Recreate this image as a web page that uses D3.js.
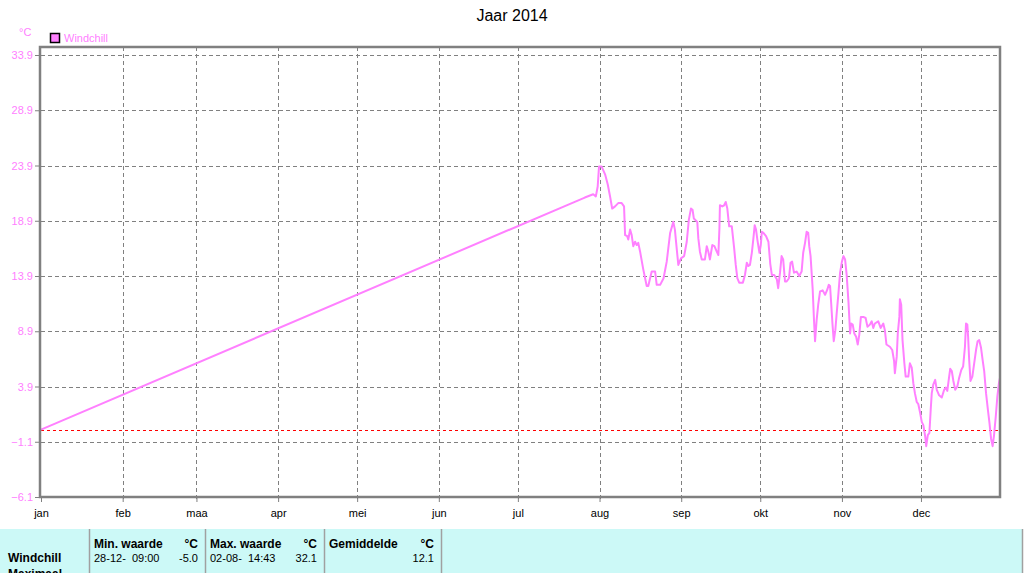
<!DOCTYPE html>
<html><head><meta charset="utf-8">
<script src="https://cdn.jsdelivr.net/npm/d3@7/dist/d3.min.js"></script>
<style>
html,body{margin:0;padding:0;background:#fff;}
svg{display:block;font-family:"Liberation Sans",Arial,sans-serif;}
text{white-space:pre;}
</style></head>
<body>
<svg id="chart" width="1024" height="573"></svg>
<script>
// ---- data ----
const title = "Jaar 2014";
const seriesName = "Windchill";
const unit = "°C";
const monthLabels = ["jan","feb","maa","apr","mei","jun","jul","aug","sep","okt","nov","dec"];
const monthStartDays = [0,31,59,90,120,151,181,212,243,273,304,334];
const yTickValues = [-6.1,-1.1,3.9,8.9,13.9,18.9,23.9,28.9,33.9];
const refLineValue = 0;
// day of year (0 = 1 jan) and windchill values (°C)
const days = [0,206.4,209.6,210.6,211.3,211.8,212.8,214.1,215.1,216.0,216.8,217.9,219.1,220.4,221.3,221.7,222.5,222.9,223.6,224.2,224.8,225.5,226.1,226.7,227.4,228.6,229.9,230.5,231.8,233.1,233.7,235.0,236.3,237.5,238.8,240.0,240.6,241.2,241.9,242.9,244.1,245.1,245.9,246.7,247.3,247.8,249.1,249.5,250.1,250.8,252.0,252.7,253.3,253.9,254.8,255.6,256.5,257.1,257.5,257.7,258.6,259.3,259.9,260.5,261.2,262.2,262.6,263.1,263.7,264.3,265.0,266.4,267.2,267.9,268.5,269.1,269.8,270.4,270.9,271.4,271.9,272.7,273.2,273.6,274.2,275.2,276.1,276.8,277.4,278.3,279.3,279.8,280.5,281.1,281.7,282.4,283.0,283.9,284.5,285.1,285.8,286.8,287.8,288.7,289.3,290.0,290.6,291.2,291.6,292.1,292.9,293.4,293.8,294.4,295.0,295.7,296.7,297.6,298.5,299.0,299.5,299.9,300.4,300.9,301.5,302.0,302.7,303.3,304.0,304.6,305.2,305.8,306.5,307.1,307.5,308.1,308.7,309.4,310.0,310.6,311.2,312.1,313.0,313.7,314.6,315.3,315.9,316.5,317.8,318.7,319.7,320.3,320.9,322.2,323.1,323.8,324.1,324.8,325.2,325.8,326.0,326.5,327.0,327.7,328.2,329.2,329.8,330.5,331.1,331.7,332.4,333.0,333.7,334.3,334.9,335.6,336.0,336.6,337.2,337.7,338.1,338.7,339.4,340.0,340.9,341.9,342.8,343.4,344.0,344.7,345.1,345.7,346.3,347.0,347.8,348.5,349.3,350.0,350.7,351.1,351.6,351.9,352.3,352.8,353.5,354.2,354.9,355.5,356.1,356.8,357.4,358.0,358.7,359.4,360.0,360.6,361.2,361.7,362.4,363.0,363.6,364.0];
const windchill = [0.0,21.0,21.3,21.1,22.0,23.8,23.8,23.1,22.2,21.1,20.0,20.2,20.5,20.5,20.2,17.6,17.5,17.2,18.1,17.6,16.6,17.0,16.7,16.9,16.1,14.5,13.0,13.0,14.3,14.3,13.1,13.1,13.7,15.2,17.8,18.8,18.1,16.6,14.9,15.5,15.7,17.0,19.0,20.0,19.9,19.1,18.8,17.3,16.1,15.4,15.4,16.6,16.1,15.4,16.7,16.6,16.1,15.8,18.2,20.3,20.2,20.3,20.6,20.0,18.4,18.4,17.5,16.4,14.9,13.7,13.3,13.3,14.0,15.1,14.8,14.9,16.0,17.3,18.5,18.1,17.2,16.0,16.7,17.9,17.8,17.5,17.0,15.0,14.0,14.0,13.6,12.8,14.2,15.7,15.4,13.4,13.4,13.7,15.1,15.2,14.2,14.3,13.9,14.3,16.0,16.9,17.9,17.8,16.6,15.7,12.7,9.9,8.0,9.9,11.3,12.5,12.6,12.2,12.7,13.1,13.0,11.5,9.6,8.0,9.0,10.5,12.4,14.2,15.2,15.7,15.4,14.0,11.5,8.7,9.6,9.5,8.7,8.4,7.7,8.6,10.2,10.2,10.1,9.3,9.5,9.8,9.2,9.6,9.8,9.2,9.6,9.0,7.7,7.5,7.2,6.2,5.1,6.6,8.7,10.2,11.8,11.3,8.1,6.0,4.8,4.8,6.0,5.6,4.2,3.3,2.5,2.3,1.5,0.7,0.4,-0.6,-1.5,-0.5,-0.3,1.8,3.3,4.1,4.5,3.6,3.1,2.9,3.6,3.8,3.5,4.8,5.5,5.3,4.4,3.6,3.9,4.7,5.4,5.7,7.5,9.6,9.5,8.4,6.3,4.4,4.8,6.0,7.2,8.0,8.1,7.4,6.3,5.3,3.3,1.8,0.6,-0.8,-1.5,-0.6,1.2,3.0,4.2,4.7];
// summary table
const tableRowLabels = ["Windchill","Maximaal"];
const tableHeaders = ["Min. waarde","Max. waarde","Gemiddelde"];
const tableTimes = ["28-12-  09:00","02-08-  14:43",""];
const tableValues = ["-5.0","32.1","12.1"];

// ---- drawing ----
const pink = "#ff80ff";
const svg = d3.select("#chart");
const L = 41, R = 1000, T = 47, B = 497;
const x = d3.scaleLinear().domain([0, 364]).range([L, R]);
const y = d3.scaleLinear().domain([-6.1, 33.9]).range([B, 55]);

// title
svg.append("text").attr("x", 512).attr("y", 21).attr("text-anchor","middle")
  .attr("font-size", 16).attr("fill","#000").text(title);
// unit
svg.append("text").attr("x", 19).attr("y", 36).attr("font-size", 11).attr("fill", pink).text(unit);
// legend
svg.append("rect").attr("x", 50.5).attr("y", 33.5).attr("width", 9).attr("height", 9)
  .attr("fill", pink).attr("stroke","#000").attr("stroke-width",1.5);
svg.append("text").attr("x", 64).attr("y", 42).attr("font-size", 11).attr("fill", pink).text(seriesName);

// grid horizontal
const g = svg.append("g");
g.selectAll("line.hg").data(yTickValues.filter(v => v > -6.1)).join("line")
  .attr("x1", L).attr("x2", R).attr("y1", d => Math.round(y(d)) + 0.5).attr("y2", d => Math.round(y(d)) + 0.5)
  .attr("stroke","#808080").attr("stroke-dasharray","4,3");
// grid vertical
g.selectAll("line.vg").data(monthStartDays.slice(1)).join("line")
  .attr("x1", d => Math.round(x(d)) + 0.5).attr("x2", d => Math.round(x(d)) + 0.5)
  .attr("y1", T).attr("y2", B + 5)
  .attr("stroke","#808080").attr("stroke-dasharray","4,3");

// y axis labels via d3 axis
const yAxis = d3.axisLeft(y).tickValues(yTickValues).tickFormat(d3.format(".1f")).tickSize(5).tickPadding(2);
const ya = svg.append("g").attr("transform", `translate(${L - 1},0)`).call(yAxis);
ya.select(".domain").remove();
ya.selectAll("line").attr("stroke","#808080");
ya.selectAll("text").attr("fill", pink).attr("font-size", 11).attr("font-family","Liberation Sans, Arial, sans-serif");

// x axis
const xAxis = d3.axisBottom(x).tickValues(monthStartDays).tickFormat((d,i) => monthLabels[i]).tickSize(5).tickPadding(7);
const xa = svg.append("g").attr("transform", `translate(0,${B})`).call(xAxis);
xa.select(".domain").remove();
xa.selectAll("line").attr("stroke","#808080");
xa.selectAll("text").attr("fill","#000").attr("font-size", 11).attr("font-family","Liberation Sans, Arial, sans-serif");

// reference line at 0
svg.append("line").attr("x1", L).attr("x2", R).attr("y1", Math.round(y(refLineValue)) + 0.5).attr("y2", Math.round(y(refLineValue)) + 0.5)
  .attr("stroke","#ff0000").attr("stroke-dasharray","3,3");

// series
const pts = days.map((d,i) => [d, windchill[i]]);
svg.append("path").datum(pts)
  .attr("d", d3.line().x(d => x(d[0])).y(d => y(d[1])))
  .attr("fill","none").attr("stroke", pink).attr("stroke-width", 2).attr("stroke-linejoin","round");

// frame
svg.append("rect").attr("x", L - 1).attr("y", T).attr("width", R - L + 1).attr("height", B - T)
  .attr("fill","none").attr("stroke","#808080").attr("stroke-width", 2.5);

// table
const tb = svg.append("g");
tb.append("rect").attr("x", 0).attr("y", 529).attr("width", 1022).attr("height", 44).attr("fill", "#ccf9f7");
tb.append("line").attr("x1", 1022.5).attr("x2", 1022.5).attr("y1", 529).attr("y2", 573).attr("stroke","#a0a0a0").attr("stroke-width",1.5);
const colX = [89, 205, 324, 441];
tb.selectAll("line.div").data(colX).join("line")
  .attr("x1", d => d + 0.5).attr("x2", d => d + 0.5).attr("y1", 529).attr("y2", 573)
  .attr("stroke", "#a0a0a0").attr("stroke-width", 1.5);
tb.selectAll("text.rl").data(tableRowLabels).join("text")
  .attr("x", 8).attr("y", (d,i) => 562 + i * 16).attr("font-size", 12).attr("font-weight","bold").text(d => d);
tableHeaders.forEach((h, i) => {
  const x0 = colX[i] + 5, x1 = colX[i + 1] - 7;
  tb.append("text").attr("x", x0).attr("y", 548).attr("font-size", 12).attr("font-weight","bold").text(h);
  tb.append("text").attr("x", x1).attr("y", 548).attr("text-anchor","end").attr("font-size", 12).attr("font-weight","bold").text(unit);
  tb.append("text").attr("x", x0).attr("y", 562).attr("font-size", 11).text(tableTimes[i]);
  tb.append("text").attr("x", x1).attr("y", 562).attr("text-anchor","end").attr("font-size", 11).text(tableValues[i]);
});
</script>
</body></html>
